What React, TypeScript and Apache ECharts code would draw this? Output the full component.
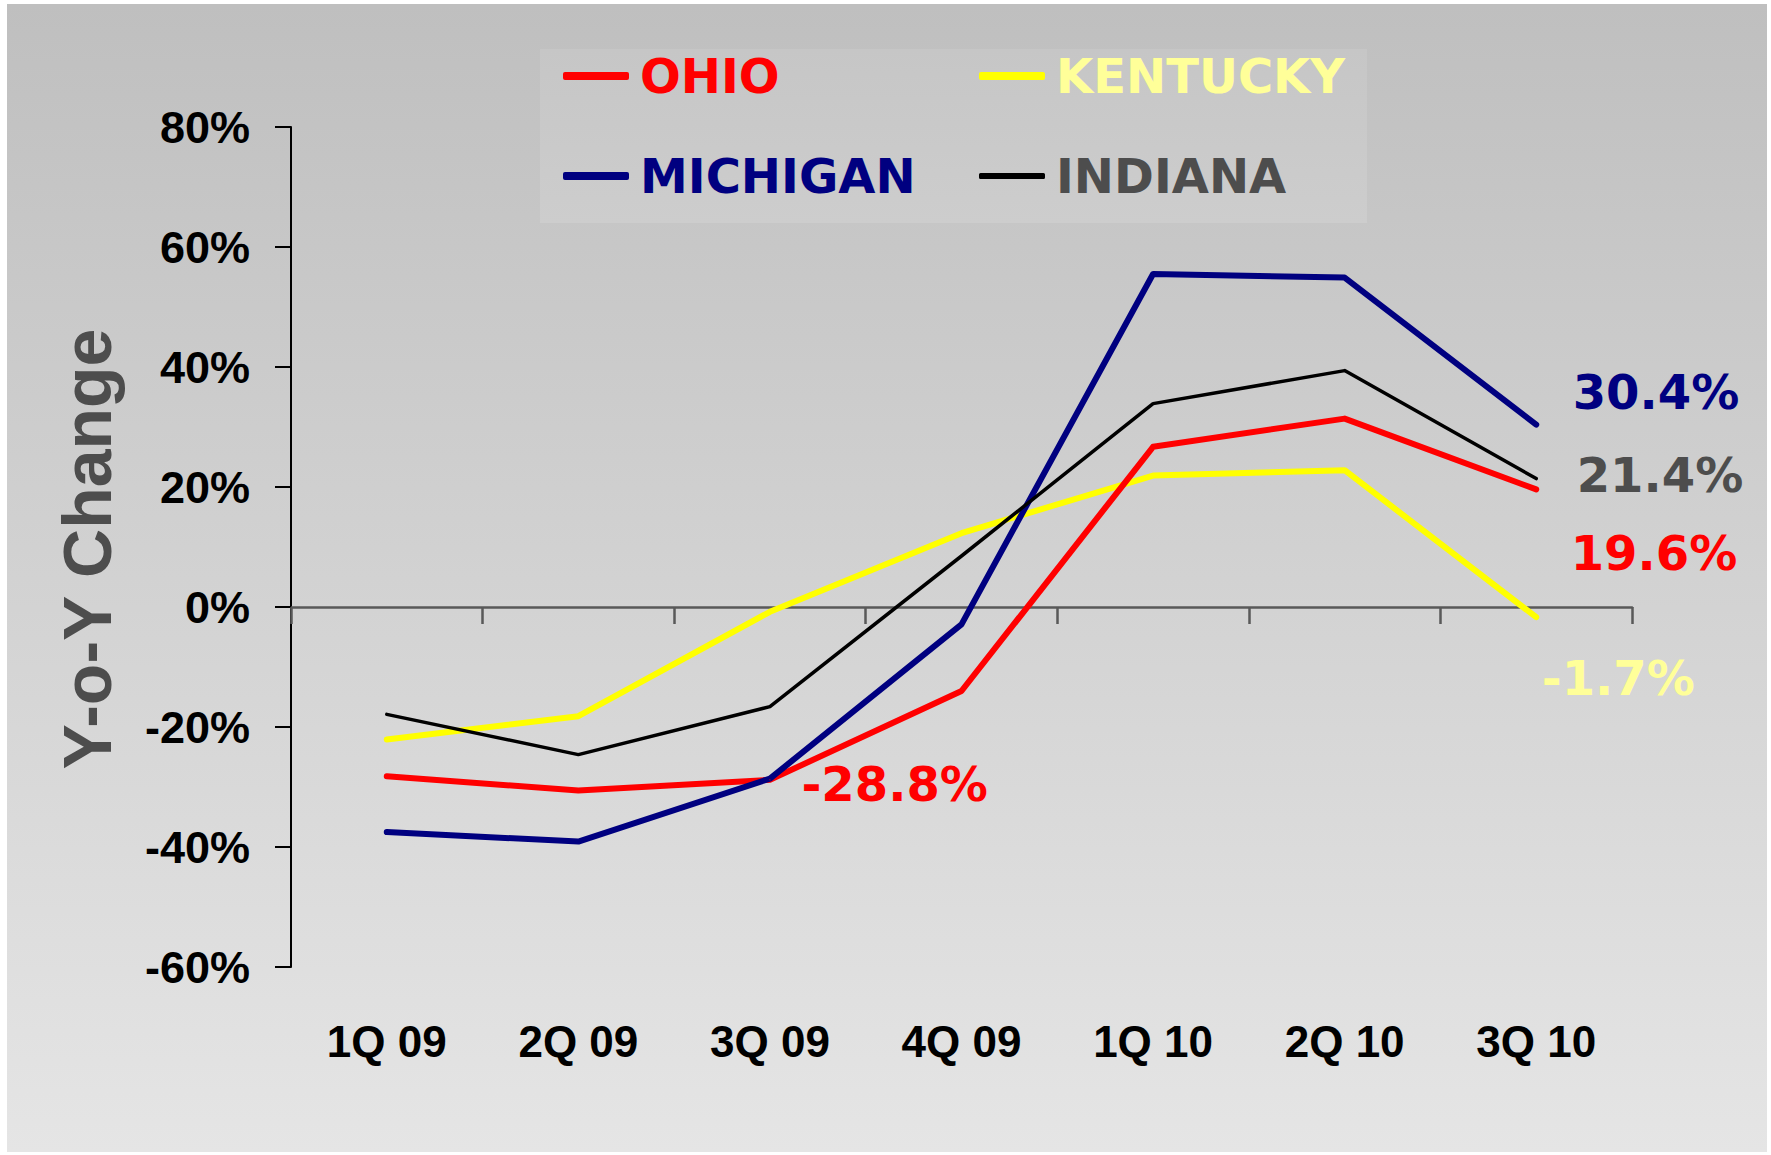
import React, { useEffect, useRef } from "react";
import * as echarts from "echarts";

const categories = ["1Q 09", "2Q 09", "3Q 09", "4Q 09", "1Q 10", "2Q 10", "3Q 10"];
const ohio = [-28.2, -30.6, -28.8, -14.0, 26.7, 31.4, 19.6];
const kentucky = [-22.1, -18.2, -0.8, 12.3, 21.9, 22.8, -1.7];
const michigan = [-37.5, -39.1, -28.6, -2.9, 55.5, 54.9, 30.4];
const indiana = [-17.9, -24.6, -16.6, 8.5, 33.9, 39.4, 21.4];

const yMin = -60;
const yMax = 80;
const yStep = 20;

// which points carry a value label, and where it sits relative to the point
const ohioLabels = { 2: [31, 4], 6: [34, 64] };
const kentuckyLabels = { 6: [5, 61] };
const michiganLabels = { 6: [36, -33] };
const indianaLabels = { 6: [40, -4] };

const LABEL_FONT = "'DejaVu Sans', Verdana, sans-serif";
const AXIS_FONT = "'Liberation Sans', Arial, sans-serif";

function buildData(values: number[], labels: Record<number, number[]>, color: string) {
  return values.map((v, i) => {
    const off = labels[i];
    if (!off) return v;
    return {
      value: v,
      label: {
        show: true,
        position: "right",
        distance: 0,
        offset: off,
        formatter: (p: any) => `${Number(p.value).toFixed(1)}%`,
        color,
        fontFamily: LABEL_FONT,
        fontWeight: "bold",
        fontSize: 48,
      },
    };
  });
}

function lineSeries(name: string, values: number[], labels: Record<number, number[]>, color: string, labelColor: string, width: number) {
  return {
    name,
    type: "line",
    xAxisIndex: 0,
    yAxisIndex: 0,
    data: buildData(values, labels, labelColor),
    showSymbol: true,
    symbol: "circle",
    symbolSize: 1,
    itemStyle: { color },
    lineStyle: { color, width, cap: "round", join: "round" },
    label: { show: false },
    emphasis: { disabled: true },
  };
}

function legendItem(name: string, textColor: string, left: number, top: number, itemHeight: number) {
  return {
    data: [{ name, icon: "roundRect", textStyle: { color: textColor } }],
    left,
    top,
    padding: 0,
    itemWidth: 66,
    itemHeight,
    itemGap: 0,
    selectedMode: false,
    textStyle: {
      fontFamily: LABEL_FONT,
      fontWeight: "bold",
      fontSize: 48,
      color: textColor,
      padding: [0, 0, 0, 6],
    },
  };
}

export default function App() {
  const ref = useRef<HTMLDivElement>(null);

  useEffect(() => {
    if (!ref.current) return;
    const chart = echarts.init(ref.current, undefined, { renderer: "svg" });
    const option: any = {
      animation: false,
      backgroundColor: "#ffffff",
      graphic: [
        {
          type: "rect",
          z: -10,
          silent: true,
          shape: { x: 7, y: 4, width: 1760, height: 1148 },
          style: {
            fill: new echarts.graphic.LinearGradient(0, 0, 0, 1, [
              { offset: 0, color: "#bfbfbf" },
              { offset: 1, color: "#e5e5e5" },
            ]),
          },
        },
        {
          type: "rect",
          z: -9,
          silent: true,
          shape: { x: 540, y: 49, width: 827, height: 174 },
          style: {
            fill: new echarts.graphic.LinearGradient(0, 0, 0, 1, [
              { offset: 0, color: "#c6c6c6" },
              { offset: 1, color: "#cdcdcd" },
            ]),
          },
        },
        {
          type: "text",
          x: 87,
          y: 549,
          rotation: Math.PI / 2,
          silent: true,
          style: {
            text: "Y-o-Y Change",
            fill: "#4d4d4d",
            fontFamily: AXIS_FONT,
            fontWeight: "bold",
            fontSize: 68,
            align: "center",
            verticalAlign: "middle",
          },
        },
      ],
      legend: [
        legendItem("OHIO", "#ff0000", 563, 52, 8),
        legendItem("KENTUCKY", "#ffff99", 979, 52, 8),
        legendItem("MICHIGAN", "#000080", 563, 152, 8),
        legendItem("INDIANA", "#4d4d4d", 979, 152, 6),
      ],
      grid: { left: 291, top: 127, width: 1341, height: 840, containLabel: false },
      xAxis: [
        {
          type: "category",
          data: categories,
          boundaryGap: true,
          axisLine: { show: true, onZero: true, lineStyle: { color: "#595959", width: 2.5 } },
          axisTick: { show: true, inside: false, length: 17, alignWithLabel: false, lineStyle: { color: "#595959", width: 2.5 } },
          axisLabel: { show: false },
          splitLine: { show: false },
        },
        {
          type: "category",
          data: categories,
          position: "bottom",
          boundaryGap: true,
          axisLine: { show: false, onZero: false },
          axisTick: { show: false },
          axisLabel: {
            show: true,
            margin: 52,
            color: "#000000",
            fontFamily: AXIS_FONT,
            fontWeight: "bold",
            fontSize: 44,
          },
          splitLine: { show: false },
        },
      ],
      yAxis: {
        type: "value",
        min: yMin,
        max: yMax,
        interval: yStep,
        axisLine: { show: true, lineStyle: { color: "#000000", width: 2 } },
        axisTick: { show: true, inside: false, length: 16, lineStyle: { color: "#000000", width: 2 } },
        axisLabel: {
          formatter: "{value}%",
          margin: 41,
          color: "#000000",
          fontFamily: AXIS_FONT,
          fontWeight: "bold",
          fontSize: 45,
        },
        splitLine: { show: false },
      },
      series: [
        lineSeries("KENTUCKY", kentucky, kentuckyLabels, "#ffff00", "#ffff99", 6),
        lineSeries("OHIO", ohio, ohioLabels, "#ff0000", "#ff0000", 6),
        lineSeries("MICHIGAN", michigan, michiganLabels, "#000080", "#000080", 6),
        lineSeries("INDIANA", indiana, indianaLabels, "#000000", "#4d4d4d", 3.5),
      ],
    };
    chart.setOption(option);
    return () => chart.dispose();
  }, []);

  return (
    <div
      ref={ref}
      style={{ position: "absolute", left: 0, top: 0, width: 1771, height: 1155, background: "#ffffff" }}
    />
  );
}
